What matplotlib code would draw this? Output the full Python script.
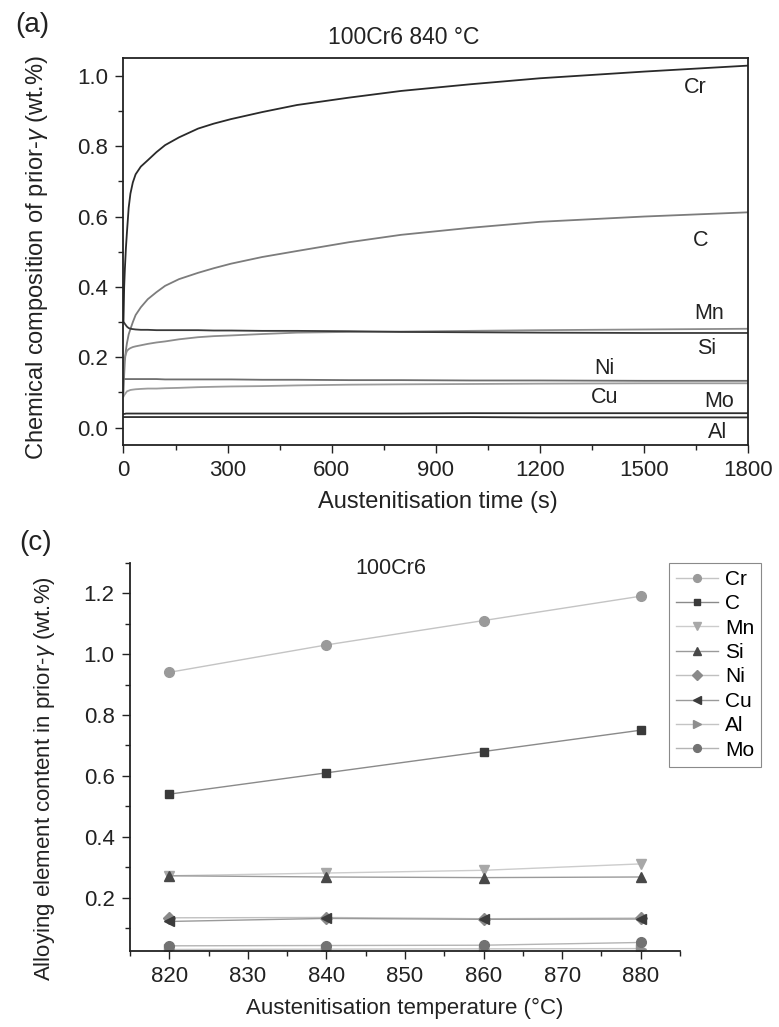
import numpy as np
import matplotlib
matplotlib.use('Agg')
import matplotlib.pyplot as plt
from matplotlib.ticker import MultipleLocator

plt.rcParams['font.family'] = ['Liberation Sans', 'DejaVu Sans']
plt.rcParams['mathtext.fontset'] = 'custom'
plt.rcParams['mathtext.rm'] = 'Liberation Sans'
plt.rcParams['mathtext.it'] = 'Liberation Sans:italic'

# (a) composition of prior-austenite vs time at 840 C
time_s = [0, 2, 4, 7, 10, 15, 20, 27, 35, 50, 70, 95, 120, 160, 215, 260, 310, 400,
          500, 650, 800, 1000, 1200, 1500, 1800]
cr_a = [0.30, 0.40, 0.45, 0.51, 0.555, 0.625, 0.665, 0.697, 0.72, 0.742, 0.76, 0.783, 0.803,
        0.825, 0.85, 0.864, 0.877, 0.897, 0.917, 0.938, 0.957, 0.976, 0.993, 1.012, 1.029]
c_a = [0.10, 0.15, 0.19, 0.22, 0.24, 0.265, 0.28, 0.30, 0.32, 0.342, 0.365, 0.385, 0.403,
       0.422, 0.44, 0.453, 0.466, 0.485, 0.502, 0.527, 0.548, 0.568, 0.585, 0.60, 0.612]
mn_a = [0.17, 0.19, 0.20, 0.21, 0.218, 0.223, 0.226, 0.229, 0.231, 0.234, 0.238, 0.242, 0.245,
        0.251, 0.257, 0.26, 0.262, 0.266, 0.27, 0.272, 0.273, 0.275, 0.277, 0.279, 0.281]
si_a = [0.30, 0.298, 0.295, 0.291, 0.287, 0.283, 0.281, 0.28, 0.279, 0.278, 0.278, 0.277, 0.277,
        0.277, 0.277, 0.276, 0.276, 0.275, 0.275, 0.274, 0.272, 0.271, 0.27, 0.269, 0.269]
ni_a = [0.139, 0.139, 0.138, 0.138, 0.138, 0.138, 0.138, 0.138, 0.138, 0.138, 0.138, 0.138, 0.137,
        0.137, 0.137, 0.137, 0.137, 0.136, 0.136, 0.135, 0.135, 0.134, 0.134, 0.133, 0.133]
cu_a = [0.088, 0.092, 0.095, 0.099, 0.103, 0.105, 0.107, 0.108, 0.109, 0.110, 0.111, 0.111, 0.112,
        0.113, 0.115, 0.116, 0.117, 0.118, 0.12, 0.122, 0.123, 0.124, 0.125, 0.126, 0.126]
mo_a = [0.039, 0.039, 0.039, 0.040, 0.040, 0.040, 0.040, 0.040, 0.040, 0.040, 0.040, 0.040, 0.040,
        0.040, 0.040, 0.040, 0.040, 0.040, 0.040, 0.040, 0.040, 0.041, 0.041, 0.041, 0.041]
al_a = [0.030, 0.030, 0.030, 0.030, 0.030, 0.030, 0.030, 0.030, 0.030, 0.030, 0.030, 0.030, 0.030,
        0.030, 0.030, 0.030, 0.030, 0.030, 0.030, 0.030, 0.030, 0.030, 0.029, 0.029, 0.029]

# (c) composition vs austenitisation temperature
temp_c = [820, 840, 860, 880]
cr_c = [0.94, 1.03, 1.11, 1.19]
c_c = [0.54, 0.61, 0.68, 0.75]
mn_c = [0.272, 0.281, 0.29, 0.311]
si_c = [0.272, 0.268, 0.266, 0.268]
ni_c = [0.134, 0.135, 0.131, 0.133]
cu_c = [0.122, 0.132, 0.129, 0.130]
al_c = [0.030, 0.031, 0.032, 0.033]
mo_c = [0.042, 0.043, 0.044, 0.053]

fig = plt.figure(figsize=(7.79, 10.27), dpi=100)

#%% panel (a)
ax1 = fig.add_axes([0.1585, 0.5665, 0.8017, 0.3768])
curves_a = [(cr_a, '#2a2a2a'), (c_a, '#7c7c7c'), (mn_a, '#8c8c8c'), (si_a, '#3a3a3a'),
            (ni_a, '#6e6e6e'), (cu_a, '#9c9c9c'), (mo_a, '#2e2e2e'), (al_a, '#2e2e2e')]
for vals, col in curves_a:
    ax1.plot(time_s, vals, color=col, lw=1.3)

ax1.set_xlim(0, 1800)
ax1.set_ylim(-0.05, 1.05)
ax1.xaxis.set_major_locator(MultipleLocator(300))
ax1.xaxis.set_minor_locator(MultipleLocator(150))
ax1.yaxis.set_minor_locator(MultipleLocator(0.1))
ax1.set_yticks(np.arange(0, 1.01, 0.2))
ax1.set_yticklabels(['0.0', '0.2', '0.4', '0.6', '0.8', '1.0'])
ax1.tick_params(which='both', direction='out', top=False, right=False, width=1.0,
                labelsize=16, colors='#222222')
ax1.tick_params(which='major', length=6, pad=5)
ax1.tick_params(which='minor', length=3.5)
for s in ax1.spines.values():
    s.set_linewidth(1.3)
    s.set_color('#222222')

ax1.set_xlabel('Austenitisation time (s)', fontsize=17, color='#222222')
ax1.set_ylabel(r'Chemical composition of prior-$\it{\gamma}$ (wt.%)', fontsize=17, color='#222222')
ax1.xaxis.set_label_coords(0.504, -0.118)
ax1.yaxis.set_label_coords(-0.118, 0.485)

labels_a = [('Cr', 1648, 0.966), ('C', 1663, 0.531), ('Mn', 1687, 0.323), ('Si', 1681, 0.226),
            ('Ni', 1385, 0.167), ('Cu', 1387, 0.087), ('Mo', 1716, 0.073), ('Al', 1711, -0.013)]
for name, tx, ty in labels_a:
    ax1.text(tx, ty, name, fontsize=15.5, ha='center', va='center', color='#222222')

fig.text(404 / 779, 1 - 37 / 1027, '100Cr6 840 \u00b0C', fontsize=16.5, ha='center', va='center', color='#222222')
fig.text(32 / 779, 1 - 25 / 1027, '(a)', fontsize=20, ha='center', va='center', color='#222222')

#%% panel (c)
ax2 = fig.add_axes([0.1669, 0.0740, 0.7060, 0.3781])
series_c = [('Cr', cr_c, 'o', '#9a9a9a', '#c4c4c4', 7.0),
            ('C', c_c, 's', '#3a3a3a', '#8a8a8a', 6.2),
            ('Mn', mn_c, 'v', '#a8a8a8', '#cccccc', 7.5),
            ('Si', si_c, '^', '#484848', '#9a9a9a', 7.5),
            ('Ni', ni_c, 'D', '#8a8a8a', '#c0c0c0', 6.0),
            ('Cu', cu_c, '<', '#3c3c3c', '#9a9a9a', 7.5),
            ('Al', al_c, '>', '#8e8e8e', '#c4c4c4', 7.5),
            ('Mo', mo_c, 'o', '#727272', '#b4b4b4', 7.0)]
for name, vals, mk, col, lcol, ms in series_c:
    ax2.plot(temp_c, vals, color=lcol, lw=1.0, marker=mk, markersize=ms,
             markerfacecolor=col, markeredgecolor=col, label=name)

ax2.set_xlim(815, 885)
ax2.set_ylim(0.025, 1.30)
ax2.xaxis.set_major_locator(MultipleLocator(10))
ax2.xaxis.set_minor_locator(MultipleLocator(5))
ax2.set_yticks(np.arange(0.2, 1.21, 0.2))
ax2.set_yticklabels(['0.2', '0.4', '0.6', '0.8', '1.0', '1.2'])
ax2.yaxis.set_minor_locator(MultipleLocator(0.1))
ax2.tick_params(which='both', direction='out', width=1.0, labelsize=16, colors='#222222')
ax2.tick_params(which='major', length=6, pad=5)
ax2.tick_params(which='minor', length=3.5)
ax2.spines['top'].set_visible(False)
ax2.spines['right'].set_visible(False)
for s in ['left', 'bottom']:
    ax2.spines[s].set_linewidth(1.3)
    ax2.spines[s].set_color('#222222')

ax2.set_xlabel('Austenitisation temperature (\u00b0C)', fontsize=16, color='#222222')
ax2.set_ylabel(r'Alloying element content in prior-$\it{\gamma}$ (wt.%)', fontsize=16, color='#222222')
ax2.xaxis.set_label_coords(0.5, -0.12)
ax2.yaxis.set_label_coords(-0.133, 0.445)

leg = ax2.legend(loc='upper right', bbox_to_anchor=(761.5 / 779, 1 - 562.5 / 1027),
                 bbox_transform=fig.transFigure, fontsize=15, frameon=True, fancybox=False,
                 edgecolor='#8a8a8a', framealpha=1, labelspacing=0.26, handlelength=2.0,
                 handletextpad=0.35, borderpad=0.35, borderaxespad=0, markerscale=0.8)
leg.get_frame().set_linewidth(0.8)

fig.text(390.5 / 779, 1 - 569 / 1027, '100Cr6', fontsize=15.5, ha='center', va='center', color='#222222')
fig.text(36 / 779, 1 - 543 / 1027, '(c)', fontsize=20, ha='center', va='center', color='#222222')

plt.savefig('out.png', dpi=100)
